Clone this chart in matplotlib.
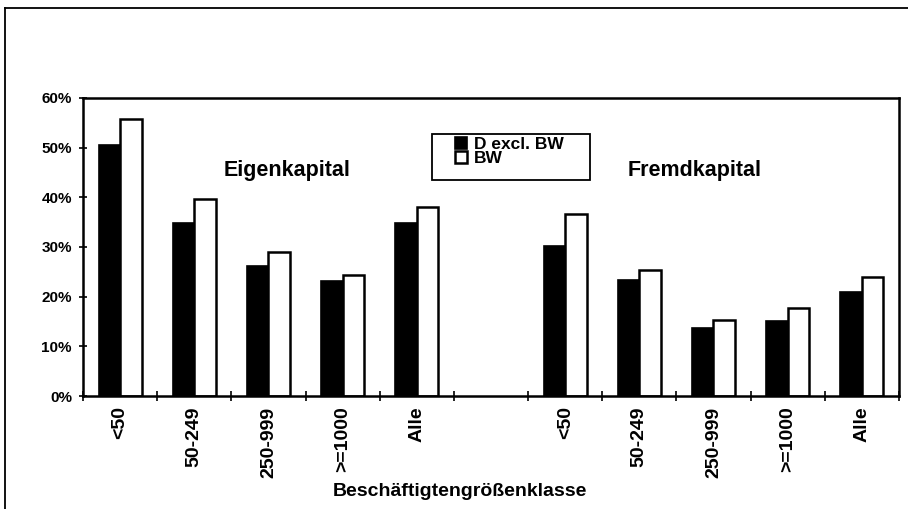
import matplotlib.pyplot as plt
import numpy as np
from matplotlib.lines import Line2D

plt.rcParams["font.family"] = ["Liberation Sans", "DejaVu Sans"]
plt.rcParams["font.weight"] = "bold"

# Beschäftigtengrößenklassen, links Eigenkapital, rechts Fremdkapital (Lücke dazwischen)
categories = ["<50", "50-249", "250-999", ">=1000", "Alle", "",
              "<50", "50-249", "250-999", ">=1000", "Alle"]
d_excl_bw = [50.6, 34.8, 26.1, 23.1, 34.8, np.nan, 30.1, 23.4, 13.7, 15.1, 21.0]
bw = [55.8, 39.7, 28.9, 24.4, 38.0, np.nan, 36.6, 25.3, 15.3, 17.7, 24.0]
yticks = [0, 10, 20, 30, 40, 50, 60]
panel_titles = ["Eigenkapital", "Fremdkapital"]


def main():
    fig = plt.figure(figsize=(9.08, 5.09), dpi=100)
    ax = fig.add_axes([0.0914, 0.222, 0.8986, 0.5855])

    x = np.arange(len(categories))
    w = 0.29
    ax.bar(x - w / 2, d_excl_bw, width=w, color="black", edgecolor="black",
           linewidth=1.2, label="D excl. BW")
    ax.bar(x + w / 2, bw, width=w, color="white", edgecolor="black",
           linewidth=1.8, label="BW")

    ax.set_xlim(-0.5, len(categories) - 0.5)
    ax.set_ylim(0, 60)
    ax.set_yticks(yticks)
    ax.set_yticklabels([f"{v}%" for v in yticks])

    # Striche an den Gruppengrenzen, Beschriftung in der Mitte
    ax.set_xticks(np.arange(-0.5, len(categories), 1.0))
    ax.set_xticklabels([])
    ax.set_xticks(x, minor=True)
    ax.set_xticklabels(categories, minor=True, rotation=90, fontsize=14,
                       fontweight="bold", va="top", ha="center")
    ax.tick_params(axis="x", which="major", direction="inout", length=7, width=1.2)
    ax.tick_params(axis="x", which="minor", length=0, pad=7.5)
    ax.tick_params(axis="y", direction="inout", length=6, width=1.2,
                   labelsize=11, pad=5)
    for lab in ax.get_yticklabels():
        lab.set_fontweight("bold")

    for s in ax.spines.values():
        s.set_linewidth(1.8)

    ax.set_xlabel("Beschäftigtengrößenklasse", fontsize=14, fontweight="bold")
    ax.xaxis.set_label_coords(0.462, -0.321)
    ax.xaxis.label.set_va("center")

    for xpos, t in zip([0.25, 0.75], panel_titles):
        ax.text(xpos, 0.756, t, transform=ax.transAxes, ha="center", va="center",
                fontsize=15.5, fontweight="bold")

    # Legende mit eigenem Rahmen
    ax.add_patch(plt.Rectangle((0.428, 0.726), 0.194, 0.154, transform=ax.transAxes,
                               facecolor="white", edgecolor="black", linewidth=1.3,
                               zorder=4))
    leg = ax.legend(loc="upper left", bbox_to_anchor=(0.456, 0.868), frameon=False,
                    fontsize=12.5, handlelength=0.7, handleheight=0.7,
                    handletextpad=0.4, labelspacing=-0.1, borderpad=0.0,
                    borderaxespad=0.0)
    leg.set_zorder(5)
    for t in leg.get_texts():
        t.set_fontweight("bold")

    # äußerer Rahmen (nur oben und links sichtbar)
    fig.add_artist(Line2D([5 / 908, 1.0], [1 - 8 / 509, 1 - 8 / 509],
                          transform=fig.transFigure, color="black", linewidth=1.3))
    fig.add_artist(Line2D([5 / 908, 5 / 908], [0.0, 1 - 8 / 509],
                          transform=fig.transFigure, color="black", linewidth=1.3))

    fig.savefig("out.png", dpi=100)


if __name__ == "__main__":
    main()
